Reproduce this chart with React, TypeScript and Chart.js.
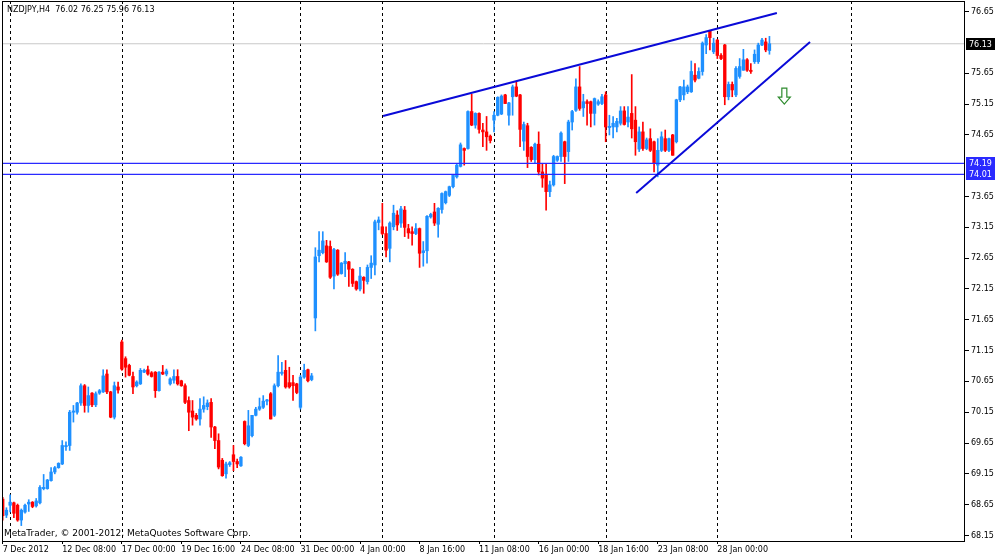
import React, { useEffect, useRef } from "react";
import { Chart, registerables } from "chart.js";

Chart.register(...registerables);

const headerText = "NZDJPY,H4  76.02 76.25 75.96 76.13";
const copyrightText = "MetaTrader, © 2001-2012, MetaQuotes Software Corp.";

// one label every 16 H4 bars
const labelEvery = 16;
const timeLabels = [
  "7 Dec 2012", "12 Dec 08:00", "17 Dec 00:00", "19 Dec 16:00", "24 Dec 08:00",
  "31 Dec 00:00", "4 Jan 00:00", "8 Jan 16:00", "11 Jan 08:00", "16 Jan 00:00",
  "18 Jan 16:00", "23 Jan 08:00", "28 Jan 00:00",
];
// bars where a new week starts (dashed separators)
const weekStartBars = [2, 32, 62, 80, 102, 132, 162, 192, 228];

// 76.15 and 74.15 are hidden behind the price boxes
const priceTicks = [
  68.15, 68.65, 69.15, 69.65, 70.15, 70.65, 71.15, 71.65, 72.15,
  72.65, 73.15, 73.65, 74.65, 75.15, 75.65, 76.65,
];

const opens = [
  68.74, 68.48, 68.64, 68.68, 68.64, 68.40, 68.53, 68.66, 68.69, 68.63,
  68.68, 68.91, 68.91, 69.04, 69.18, 69.25, 69.31, 69.59, 69.61, 70.15,
  70.15, 70.30, 70.58, 70.26, 70.46, 70.27, 70.46, 70.48, 70.77, 70.48,
  70.07, 70.56, 71.29, 71.02, 70.91, 70.73, 70.58, 70.61, 70.80, 70.84,
  70.79, 70.80, 70.50, 70.80, 70.77, 70.61, 70.67, 70.73, 70.66, 70.58,
  70.34, 70.17, 70.10, 70.04, 70.20, 70.24, 70.31, 69.91, 69.69, 69.37,
  69.15, 69.30, 69.46, 69.35, 69.28, 70.00, 69.61, 69.77, 70.10, 70.20,
  70.23, 70.33, 70.45, 70.10, 70.58, 70.78, 70.83, 70.63, 70.63, 70.61,
  70.23, 70.72, 70.84, 70.68, 71.68, 72.69, 72.74, 72.85, 72.84, 72.36,
  72.78, 72.40, 72.56, 72.59, 72.47, 72.27, 72.15, 72.34, 72.27, 72.50,
  72.54, 73.23, 73.16, 73.05, 72.81, 73.16, 73.35, 73.22, 73.43, 73.13,
  73.08, 73.05, 73.13, 72.74, 72.77, 73.32, 73.40, 73.20, 73.44, 73.55,
  73.67, 73.81, 73.97, 74.14, 74.43, 74.43, 75.03, 74.81, 75.00, 74.73,
  74.70, 74.63, 74.89, 74.97, 74.99, 75.30, 74.97, 75.27, 75.43, 75.30,
  74.55, 74.80, 74.45, 74.25, 74.50, 74.05, 74.00, 73.73, 73.84, 74.24,
  74.30, 74.54, 74.38, 74.86, 75.05, 75.43, 75.09, 75.19, 75.19, 75.00,
  75.15, 75.16, 75.30, 74.77, 74.78, 74.78, 74.84, 75.04, 74.86, 75.00,
  74.89, 74.42, 74.70, 74.43, 74.59, 74.54, 74.16, 74.40, 74.59, 74.40,
  74.65, 74.54, 75.22, 75.30, 75.35, 75.35, 75.62, 75.57, 75.68, 76.11,
  76.34, 76.00, 76.19, 75.94, 76.11, 75.27, 75.47, 75.30, 75.60, 75.70,
  75.87, 75.70, 75.84, 75.84, 76.11, 76.16, 76.02,
];
const highs = [
  68.77, 68.60, 68.81, 68.69, 68.66, 68.58, 68.66, 68.73, 68.70, 68.75,
  68.96, 69.14, 69.06, 69.25, 69.27, 69.33, 69.69, 69.67, 70.18, 70.26,
  70.31, 70.61, 70.60, 70.56, 70.47, 70.48, 70.52, 70.84, 70.84, 70.49,
  70.64, 70.64, 71.32, 71.05, 70.93, 70.80, 70.66, 70.86, 70.85, 70.90,
  70.81, 70.81, 70.81, 70.91, 70.85, 70.71, 70.84, 70.84, 70.67, 70.61,
  70.40, 70.34, 70.13, 70.37, 70.40, 70.35, 70.37, 69.92, 69.80, 69.40,
  69.34, 69.35, 69.61, 69.39, 69.43, 70.01, 70.18, 70.10, 70.23, 70.38,
  70.42, 70.36, 70.47, 70.61, 71.07, 70.96, 70.99, 70.88, 70.75, 70.62,
  70.75, 70.93, 70.85, 70.78, 72.82, 73.08, 73.08, 72.94, 72.93, 72.81,
  72.79, 72.58, 72.74, 72.60, 72.48, 72.28, 72.50, 72.35, 72.54, 72.69,
  73.27, 73.32, 73.54, 73.16, 73.24, 73.51, 73.42, 73.49, 73.49, 73.20,
  73.16, 73.21, 73.14, 72.92, 73.34, 73.38, 73.54, 73.47, 73.71, 73.74,
  73.82, 74.01, 74.19, 74.52, 74.44, 75.04, 75.31, 75.01, 75.01, 74.84,
  74.95, 74.65, 75.03, 75.27, 75.30, 75.31, 75.18, 75.46, 75.51, 75.31,
  74.86, 74.84, 74.46, 74.52, 74.70, 74.19, 74.19, 73.90, 74.32, 74.31,
  74.70, 74.55, 74.89, 75.05, 75.56, 75.76, 75.31, 75.22, 75.20, 75.25,
  75.22, 75.31, 75.35, 74.97, 74.95, 74.92, 75.11, 75.11, 75.11, 75.63,
  75.11, 74.78, 74.86, 74.60, 74.75, 74.55, 74.59, 74.70, 74.73, 74.60,
  74.66, 75.23, 75.44, 75.54, 75.46, 75.85, 75.81, 75.74, 76.16, 76.28,
  76.35, 76.22, 76.20, 75.97, 76.12, 75.51, 75.51, 75.76, 75.89, 76.04,
  75.89, 75.81, 76.03, 76.14, 76.22, 76.22, 76.25,
];
const lows = [
  68.40, 68.44, 68.53, 68.44, 68.38, 68.31, 68.51, 68.54, 68.60, 68.61,
  68.66, 68.89, 68.90, 69.03, 69.15, 69.24, 69.30, 69.53, 69.53, 69.99,
  70.12, 70.26, 70.15, 70.15, 70.24, 70.24, 70.44, 70.47, 70.45, 70.06,
  70.04, 70.46, 70.83, 70.72, 70.74, 70.45, 70.56, 70.60, 70.79, 70.75,
  70.72, 70.39, 70.49, 70.76, 70.74, 70.59, 70.62, 70.59, 70.57, 70.29,
  69.85, 69.94, 70.02, 69.94, 70.15, 70.19, 69.74, 69.56, 69.23, 69.11,
  69.08, 69.27, 69.20, 69.25, 69.27, 69.62, 69.59, 69.75, 70.09, 70.18,
  70.21, 70.27, 70.04, 70.08, 70.56, 70.75, 70.54, 70.54, 70.34, 70.45,
  70.20, 70.70, 70.64, 70.66, 71.47, 72.59, 72.72, 72.58, 72.32, 72.15,
  72.37, 72.39, 72.35, 72.19, 72.19, 72.13, 72.12, 72.08, 72.23, 72.32,
  72.38, 73.11, 73.03, 72.67, 72.59, 73.11, 73.10, 73.15, 73.00, 72.97,
  72.86, 73.03, 72.50, 72.52, 72.57, 73.30, 73.18, 72.99, 73.38, 73.53,
  73.65, 73.79, 73.95, 74.13, 74.16, 74.42, 74.80, 74.76, 74.68, 74.46,
  74.40, 74.52, 74.70, 74.96, 74.98, 75.16, 74.81, 74.97, 75.27, 74.46,
  74.40, 74.12, 74.22, 74.20, 74.00, 73.80, 73.43, 73.65, 73.82, 74.22,
  74.22, 73.86, 74.22, 74.73, 75.03, 75.05, 74.95, 74.81, 74.78, 74.81,
  75.13, 75.14, 74.54, 74.65, 74.60, 74.70, 74.81, 74.81, 74.78, 74.60,
  74.32, 74.38, 74.40, 74.41, 74.38, 74.05, 73.97, 74.38, 74.38, 74.38,
  74.32, 74.52, 75.19, 75.22, 75.32, 75.34, 75.51, 75.56, 75.62, 75.97,
  76.03, 75.97, 75.89, 75.87, 75.14, 75.22, 75.27, 75.27, 75.57, 75.70,
  75.68, 75.65, 75.81, 75.81, 76.10, 76.00, 75.96,
];
const closes = [
  68.47, 68.56, 68.69, 68.51, 68.40, 68.56, 68.64, 68.69, 68.62, 68.71,
  68.93, 68.93, 69.05, 69.18, 69.25, 69.32, 69.61, 69.61, 70.15, 70.17,
  70.30, 70.58, 70.26, 70.42, 70.27, 70.45, 70.50, 70.74, 70.48, 70.07,
  70.58, 70.51, 70.85, 70.88, 70.75, 70.56, 70.64, 70.83, 70.83, 70.77,
  70.73, 70.50, 70.80, 70.77, 70.82, 70.69, 70.73, 70.61, 70.58, 70.31,
  70.15, 70.07, 70.04, 70.20, 70.26, 70.30, 69.91, 69.69, 69.26, 69.12,
  69.31, 69.33, 69.35, 69.31, 69.42, 69.64, 69.93, 70.10, 70.20, 70.24,
  70.33, 70.35, 70.04, 70.58, 70.80, 70.80, 70.56, 70.56, 70.58, 70.47,
  70.72, 70.83, 70.66, 70.74, 72.67, 72.78, 72.93, 72.59, 72.34, 72.79,
  72.39, 72.57, 72.60, 72.47, 72.24, 72.15, 72.36, 72.29, 72.50, 72.57,
  73.24, 73.27, 73.05, 72.78, 73.22, 73.38, 73.19, 73.45, 73.15, 73.06,
  73.05, 73.13, 72.73, 72.77, 73.33, 73.36, 73.22, 73.46, 73.70, 73.73,
  73.81, 74.00, 74.16, 74.49, 74.40, 75.03, 74.81, 75.00, 74.74, 74.70,
  74.62, 74.56, 74.97, 75.26, 75.28, 75.16, 75.17, 75.43, 75.28, 74.74,
  74.82, 74.30, 74.25, 74.50, 74.05, 73.95, 73.73, 73.84, 74.30, 74.30,
  74.68, 74.30, 74.86, 75.03, 75.43, 75.08, 75.19, 75.16, 75.00, 75.24,
  75.19, 75.27, 74.78, 74.79, 74.84, 74.87, 75.04, 74.82, 74.94, 74.75,
  74.54, 74.70, 74.43, 74.57, 74.40, 74.19, 74.40, 74.62, 74.40, 74.59,
  74.32, 75.22, 75.43, 75.43, 75.43, 75.68, 75.54, 75.68, 76.14, 76.23,
  76.23, 76.14, 75.94, 75.89, 75.27, 75.47, 75.38, 75.73, 75.76, 75.87,
  75.70, 75.68, 75.96, 76.11, 76.19, 76.03, 76.13,
];

const bidPrice = 76.13;
const levelPrices = [74.19, 74.01];
// drawn objects, in (bar, price)
const upperTrend = [{ x: 102.2, y: 74.957 }, { x: 208.0, y: 76.63 }];
const lowerTrend = [{ x: 170.2, y: 73.708 }, { x: 216.9, y: 76.158 }];
const sellArrow = { x: 210.0, y: 75.28 };

const UP = "#1e90ff";
const DOWN = "#ff0000";
const LEVEL = "#2a2aff";
const TREND = "#0a0ad8";
const FONT = "DejaVu Sans";

const xMin = -0.188;
const xMax = 258.54;

const mtPlugin = {
  id: "mtDecor",
  beforeDatasetsDraw(chart: any) {
    const { ctx, chartArea: a, scales } = chart;
    ctx.save();
    ctx.strokeStyle = "#000";
    ctx.lineWidth = 1;
    ctx.setLineDash([3, 3]);
    weekStartBars.forEach((b) => {
      const x = Math.round(scales.x.getPixelForValue(b)) + 0.5;
      ctx.beginPath();
      ctx.moveTo(x, a.top);
      ctx.lineTo(x, a.bottom);
      ctx.stroke();
    });
    ctx.restore();
  },
  afterDraw(chart: any) {
    const { ctx, chartArea: a, scales } = chart;
    ctx.save();
    ctx.strokeStyle = "#000";
    ctx.lineWidth = 1;
    ctx.strokeRect(a.left + 0.5, a.top + 0.5, a.right - a.left - 1, a.bottom - a.top);

    ctx.fillStyle = "#000";
    ctx.textBaseline = "top";
    ctx.textAlign = "left";
    ctx.font = `8px "${FONT}"`;
    ctx.fillText(headerText, a.left + 5, a.top + 5);
    ctx.font = `9px "${FONT}"`;
    ctx.fillText(copyrightText, a.left + 2, a.bottom - 12);

    // price boxes on the axis
    const boxes = [
      { v: bidPrice, bg: "#000" },
      ...levelPrices.map((v) => ({ v, bg: LEVEL })),
    ];
    ctx.font = `8px "${FONT}"`;
    ctx.textBaseline = "middle";
    boxes.forEach(({ v, bg }) => {
      const y = Math.round(scales.y.getPixelForValue(v));
      ctx.fillStyle = bg;
      ctx.fillRect(a.right + 1, y - 6, 29, 12);
      ctx.fillStyle = "#fff";
      ctx.fillText(v.toFixed(2), a.right + 4, y + 0.5);
    });

    // hollow sell arrow
    const cx = scales.x.getPixelForValue(sellArrow.x);
    const cy = scales.y.getPixelForValue(sellArrow.y);
    ctx.strokeStyle = "#2e8b2e";
    ctx.lineWidth = 1.2;
    ctx.beginPath();
    ctx.moveTo(cx - 2.5, cy - 8);
    ctx.lineTo(cx + 2.5, cy - 8);
    ctx.lineTo(cx + 2.5, cy + 1);
    ctx.lineTo(cx + 6, cy + 1);
    ctx.lineTo(cx, cy + 8);
    ctx.lineTo(cx - 6, cy + 1);
    ctx.lineTo(cx - 2.5, cy + 1);
    ctx.closePath();
    ctx.stroke();
    ctx.restore();
  },
};

const App: React.FC = () => {
  const canvasRef = useRef<HTMLCanvasElement>(null);
  const chartRef = useRef<Chart | null>(null);

  useEffect(() => {
    if (!canvasRef.current) return;
    const ctx = canvasRef.current.getContext("2d");
    if (!ctx) return;
    if (chartRef.current) chartRef.current.destroy();

    const colors = opens.map((o, i) => (closes[i] >= o ? UP : DOWN));
    const lineOpts = { pointRadius: 0, fill: false, tension: 0 };

    chartRef.current = new Chart(ctx, {
      type: "bar",
      data: {
        datasets: [
          {
            type: "line",
            data: [{ x: xMin, y: bidPrice }, { x: xMax, y: bidPrice }],
            borderColor: "#c8c8c8",
            borderWidth: 1,
            order: 10,
            ...lineOpts,
          },
          {
            data: opens.map((_, i) => ({ x: i, y: [lows[i], highs[i]] })),
            backgroundColor: colors,
            barThickness: 1,
            grouped: false,
            order: 6,
          },
          {
            data: opens.map((o, i) => ({ x: i, y: [o, closes[i]] })),
            backgroundColor: colors,
            barThickness: 2.7,
            grouped: false,
            order: 5,
          },
          ...levelPrices.map((v) => ({
            type: "line",
            data: [{ x: xMin, y: v }, { x: xMax, y: v }],
            borderColor: LEVEL,
            borderWidth: 1.3,
            order: 2,
            ...lineOpts,
          })),
          ...[upperTrend, lowerTrend].map((pts) => ({
            type: "line",
            data: pts,
            borderColor: TREND,
            borderWidth: 2,
            order: 1,
            ...lineOpts,
          })),
        ] as any,
      },
      options: {
        responsive: true,
        maintainAspectRatio: false,
        animation: false,
        events: [],
        layout: { padding: { left: 2, top: 1, right: 0, bottom: 0 } },
        plugins: { legend: { display: false }, tooltip: { enabled: false } },
        scales: {
          x: {
            type: "linear",
            min: xMin,
            max: xMax,
            offset: false,
            afterFit: (s: any) => {
              s.height = 16;
              s.paddingLeft = 0;
              s.paddingRight = 0;
            },
            afterBuildTicks: (s: any) => {
              s.ticks = timeLabels.map((_, k) => ({ value: k * labelEvery }));
            },
            grid: { drawOnChartArea: false, tickLength: 3, color: "#000", offset: false },
            border: { display: false },
            ticks: {
              autoSkip: false,
              maxRotation: 0,
              align: "start",
              padding: 1,
              color: "#000",
              font: { family: FONT, size: 8 },
              callback: (v: any) => timeLabels[Math.round(Number(v) / labelEvery)] ?? "",
            },
          },
          y: {
            type: "linear",
            position: "right",
            min: 68.06,
            max: 76.824,
            afterFit: (s: any) => {
              s.width = 35;
              s.paddingTop = 0;
              s.paddingBottom = 0;
            },
            afterBuildTicks: (s: any) => {
              s.ticks = priceTicks.map((v) => ({ value: v }));
            },
            grid: { drawOnChartArea: false, tickLength: 4, color: "#000" },
            border: { display: false },
            ticks: {
              autoSkip: false,
              padding: 2,
              color: "#000",
              font: { family: FONT, size: 8 },
              callback: (v: any) => Number(v).toFixed(2),
            },
          },
        },
      },
      plugins: [mtPlugin],
    } as any);

    return () => {
      if (chartRef.current) {
        chartRef.current.destroy();
        chartRef.current = null;
      }
    };
  }, []);

  return (
    <div style={{ position: "absolute", left: 0, top: 0, width: 1000, height: 557, background: "#fff" }}>
      <canvas ref={canvasRef} />
    </div>
  );
};

export default App;
